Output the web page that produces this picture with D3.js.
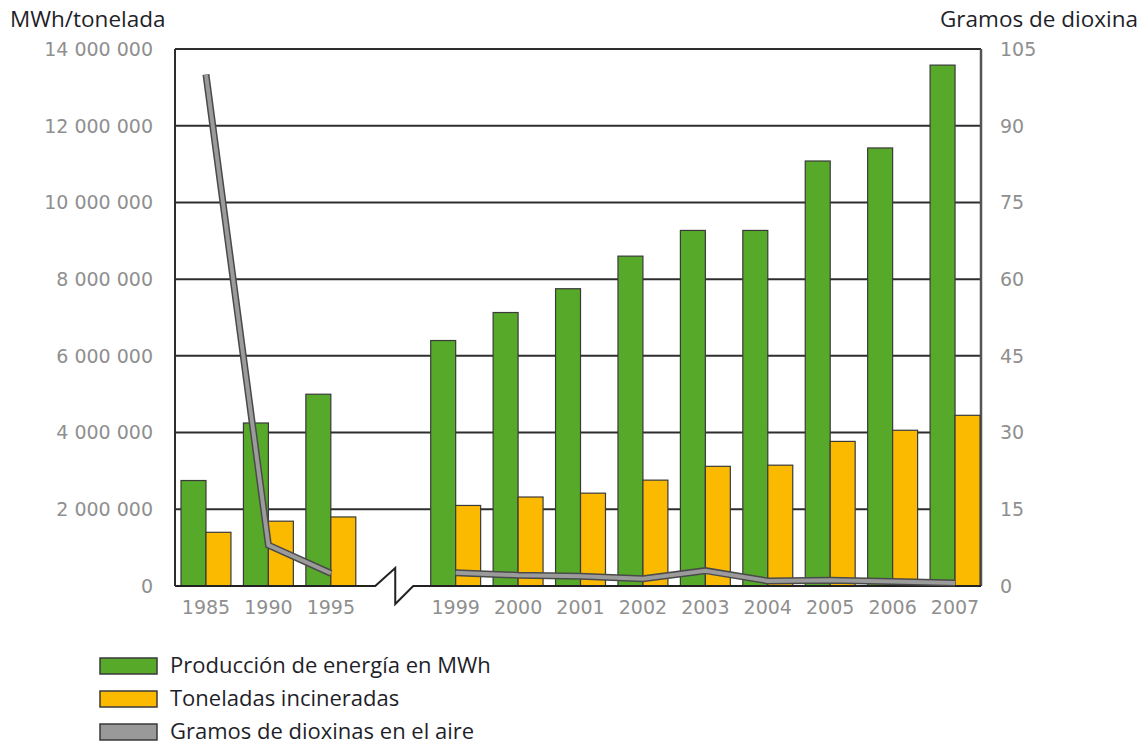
<!DOCTYPE html>
<html>
<head>
<meta charset="utf-8">
<script src="https://cdn.jsdelivr.net/npm/d3@7"></script>
<style>
  html, body { margin: 0; padding: 0; background: #fff; }
  svg { display: block; }
  .tick-label { font-family: "DejaVu Sans", "Bitstream Vera Sans", Verdana, sans-serif; font-size: 19px; fill: #8f8f8f; }
  .title-text { font-family: "Open Sans", "Noto Sans", sans-serif; fill: #1f1f2a; }
</style>
</head>
<body>
<svg id="chart" width="1143" height="744"></svg>
<script>
// Years shown on the category axis; "gap" is the empty slot where the axis is broken
const years = ["1985", "1990", "1995", "gap", "1999", "2000", "2001", "2002", "2003", "2004", "2005", "2006", "2007"];
const dataYears = ["1985", "1990", "1995", "1999", "2000", "2001", "2002", "2003", "2004", "2005", "2006", "2007"];

// Energy production (MWh)
const energiaMWh = [2750000, 4250000, 5000000, 6400000, 7130000, 7750000, 8600000, 9270000, 9270000, 11080000, 11420000, 13580000];
// Tonnes incinerated
const toneladas = [1400000, 1690000, 1800000, 2100000, 2320000, 2420000, 2760000, 3120000, 3150000, 3770000, 4060000, 4450000];
// Grams of dioxins released into the air
const dioxinas = [100, 8.0, 2.5, 2.6, 2.1, 1.9, 1.4, 3.0, 1.0, 1.1, 0.9, 0.6];

const leftTicks = [0, 2000000, 4000000, 6000000, 8000000, 10000000, 12000000, 14000000];
const rightTicks = [0, 15, 30, 45, 60, 75, 90, 105];

const legendItems = [
  { label: "Producción de energía en MWh", color: "#57a92a" },
  { label: "Toneladas incineradas", color: "#fbba00" },
  { label: "Gramos de dioxinas en el aire", color: "#999999" }
];

const svg = d3.select("#chart");
const plot = { left: 175, right: 981, top: 49, bottom: 586 };

const x = d3.scaleBand()
  .domain(years)
  .range([plot.left, plot.right])
  .paddingInner(0.2)
  .paddingOuter(0.056)
  .align(0.86);

const sub = d3.scaleBand()
  .domain(["energia", "toneladas"])
  .range([0, x.bandwidth()]);

const yL = d3.scaleLinear().domain([0, 14000000]).range([plot.bottom, plot.top]);
const yR = d3.scaleLinear().domain([0, 105]).range([plot.bottom, plot.top]);

const fmt = v => d3.format(",")(v).replace(/,/g, " ");

// Horizontal grid lines (the 0 line is drawn later as the broken baseline)
svg.append("g")
  .selectAll("line")
  .data(leftTicks.filter(d => d > 0))
  .join("line")
  .attr("x1", plot.left).attr("x2", plot.right)
  .attr("y1", d => yL(d)).attr("y2", d => yL(d))
  .attr("stroke", "#2e2e2e").attr("stroke-width", 2);

// Left and right frame lines
svg.append("line")
  .attr("x1", plot.left).attr("x2", plot.left)
  .attr("y1", plot.top).attr("y2", plot.bottom)
  .attr("stroke", "#2e2e2e").attr("stroke-width", 2);
svg.append("line")
  .attr("x1", plot.right).attr("x2", plot.right)
  .attr("y1", plot.top).attr("y2", plot.bottom)
  .attr("stroke", "#555").attr("stroke-width", 2.5);

// Bars
const rows = dataYears.map((yr, i) => ({ yr, energia: energiaMWh[i], toneladas: toneladas[i], diox: dioxinas[i] }));
const barG = svg.append("g");
rows.forEach(r => {
  barG.append("rect")
    .attr("x", x(r.yr) + sub("energia"))
    .attr("y", yL(r.energia))
    .attr("width", sub.bandwidth())
    .attr("height", yL(0) - yL(r.energia))
    .attr("fill", legendItems[0].color)
    .attr("stroke", "#3a3a3a").attr("stroke-width", 1.2);
  barG.append("rect")
    .attr("x", x(r.yr) + sub("toneladas"))
    .attr("y", yL(r.toneladas))
    .attr("width", sub.bandwidth())
    .attr("height", yL(0) - yL(r.toneladas))
    .attr("fill", legendItems[1].color)
    .attr("stroke", "#3a3a3a").attr("stroke-width", 1.2);
});

// Baseline with a break marker in the empty slot
const gapCenter = x("gap") + x.bandwidth() / 2;
const b = plot.bottom;
const basePath = d3.path();
basePath.moveTo(plot.left, b);
basePath.lineTo(gapCenter - 18, b);
basePath.lineTo(gapCenter + 2, b - 18);
basePath.lineTo(gapCenter + 2, b + 18);
basePath.lineTo(gapCenter + 20, b);
basePath.lineTo(plot.right, b);
svg.append("path")
  .attr("d", basePath.toString())
  .attr("fill", "none")
  .attr("stroke", "#222").attr("stroke-width", 2)
  .attr("stroke-linejoin", "miter");

// Dioxin line, split in two segments on each side of the break
const lineGen = d3.line()
  .x(d => x(d.yr) + x.bandwidth() / 2)
  .y(d => yR(d.diox));
const segments = [rows.slice(0, 3), rows.slice(3)];
segments.forEach(seg => {
  svg.append("path")
    .attr("d", lineGen(seg))
    .attr("fill", "none")
    .attr("stroke", "#4a4a4a").attr("stroke-width", 7)
    .attr("stroke-linejoin", "miter");
  svg.append("path")
    .attr("d", lineGen(seg))
    .attr("fill", "none")
    .attr("stroke", "#9b9b9b").attr("stroke-width", 4)
    .attr("stroke-linejoin", "miter");
});

// Left tick labels
svg.append("g")
  .selectAll("text")
  .data(leftTicks)
  .join("text")
  .attr("class", "tick-label")
  .attr("x", 153)
  .attr("y", d => yL(d))
  .attr("dy", "0.36em")
  .attr("text-anchor", "end")
  .text(d => fmt(d));

// Right tick labels
svg.append("g")
  .selectAll("text")
  .data(rightTicks)
  .join("text")
  .attr("class", "tick-label")
  .attr("x", 1000)
  .attr("y", d => yR(d))
  .attr("dy", "0.36em")
  .attr("text-anchor", "start")
  .text(d => d);

// Category labels
svg.append("g")
  .selectAll("text")
  .data(dataYears)
  .join("text")
  .attr("class", "tick-label")
  .attr("x", d => x(d) + x.bandwidth() / 2)
  .attr("y", 614)
  .attr("text-anchor", "middle")
  .text(d => d);

// Axis titles
svg.append("text")
  .attr("class", "title-text")
  .attr("x", 10).attr("y", 27)
  .attr("font-size", 22.5)
  .text("MWh/tonelada");
svg.append("text")
  .attr("class", "title-text")
  .attr("x", 1138).attr("y", 27)
  .attr("text-anchor", "end")
  .attr("font-size", 22.5)
  .text("Gramos de dioxina");

// Legend
const leg = svg.append("g");
legendItems.forEach((it, i) => {
  const y0 = 658 + i * 33;
  leg.append("rect")
    .attr("x", 100).attr("y", y0)
    .attr("width", 57).attr("height", 16)
    .attr("fill", it.color)
    .attr("stroke", "#3a3a3a").attr("stroke-width", 1.5);
  leg.append("text")
    .attr("class", "title-text")
    .attr("x", 170).attr("y", y0 + 14.5)
    .attr("font-size", 22)
    .text(it.label);
});
</script>
</body>
</html>
